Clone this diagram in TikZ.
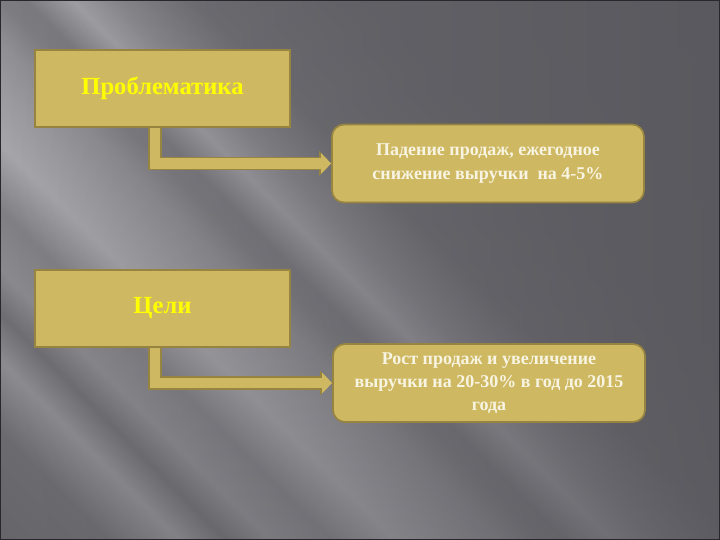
\documentclass[tikz,border=0pt]{standalone}
\usepackage{fontspec}
\setmainfont{Liberation Serif}
\usetikzlibrary{arrows.meta}
\usetikzlibrary{fadings}

\definecolor{boxfill}{RGB}{206,184,98}
\definecolor{boxedge}{RGB}{150,132,64}
\definecolor{titleyellow}{RGB}{255,255,0}
\definecolor{notetext}{RGB}{248,244,226}
\definecolor{bgdark}{RGB}{86,86,92}
\definecolor{framecol}{RGB}{40,40,44}

\pgfdeclarehorizontalshading{streaks}{100bp}{rgb(0bp)=(.40,.40,.42); rgb(26bp)=(.40,.40,.42); rgb(30bp)=(.42,.42,.44); rgb(32.7bp)=(.55,.55,.57); rgb(34.5bp)=(.43,.43,.45); rgb(36.2bp)=(.54,.54,.56); rgb(38.5bp)=(.50,.50,.52); rgb(41bp)=(.65,.65,.67); rgb(43bp)=(.61,.61,.63); rgb(45bp)=(.56,.56,.58); rgb(46.5bp)=(.49,.49,.51); rgb(47.5bp)=(.48,.48,.50); rgb(49.3bp)=(.64,.64,.66); rgb(51bp)=(.55,.55,.57); rgb(54bp)=(.44,.44,.46); rgb(60bp)=(.41,.41,.43); rgb(100bp)=(.38,.38,.40)}
\tikzfading[name=fade right, left color=transparent!100, right color=transparent!20]

\begin{document}
\begin{tikzpicture}[
        titlebox/.style={rectangle, draw=boxedge, fill=boxfill, line width=1.2pt, minimum width=6.375cm, minimum height=1.925cm, text=titleyellow, font=\bfseries\fontsize{17.5}{20}\selectfont},
        notebox/.style={rectangle, rounded corners=0.3cm, draw=boxedge, fill=boxfill, line width=1.2pt, minimum width=7.8cm, minimum height=1.95cm, align=center, text=notetext, font=\bfseries\fontsize{12.8}{16.5}\selectfont},
        bendarrow/.style={draw=boxfill, line width=0.27cm, -{Triangle[length=0.25cm, width=0.5cm]}, preaction={draw=boxedge, line width=0.34cm, -{Triangle[length=0.3cm, width=0.6cm]}}}
    ]
        \useasboundingbox (0,0) rectangle (18,13.5);
        \begin{scope}
            \clip (0,0) rectangle (18,13.5);
            \begin{scope}[transform canvas={rotate around={45:(9,6.75)}}]
                \shade[shading=streaks] (-2.5,-4.75) rectangle (20.5,18.25);
            \end{scope}
            \fill[bgdark, path fading=fade right] (0,0) rectangle (18,13.5);
        \end{scope}
        \draw[framecol, line width=1.2pt] (0,0) rectangle (18,13.5);

        \node[titlebox] (problem) at (4.0625, 11.2875) {Проблематика};
        \node[notebox] (issue) at (12.2, 9.4125) {Падение продаж, ежегодное\\снижение выручки~ на 4-5\%};
        \node[titlebox] (goals) at (4.0625, 5.7875) {Цели};
        \node[notebox] (target) at (12.225, 3.925) {Рост продаж и увеличение\\выручки на 20-30\% в год до 2015\\года};

        \draw[bendarrow] ([xshift=-0.19cm]problem.south) |- (issue.west);
        \draw[bendarrow] ([xshift=-0.19cm]goals.south) |- (target.west);
    \end{tikzpicture}
\end{document}
